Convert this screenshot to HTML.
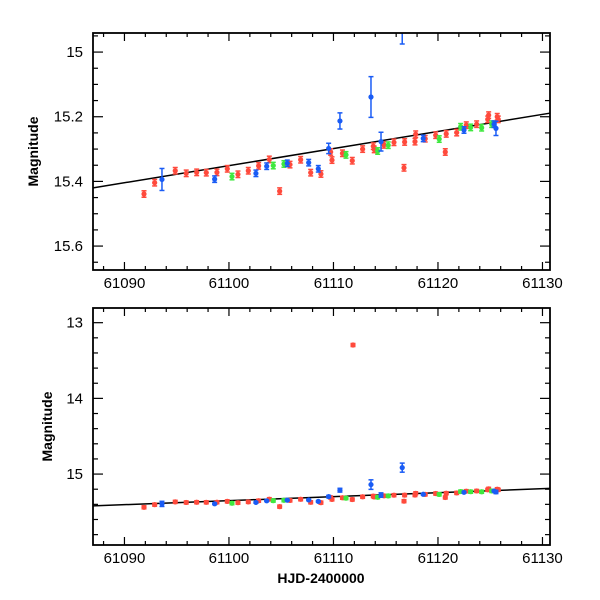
<!DOCTYPE html>
<html><head><meta charset="utf-8"><style>
html,body{margin:0;padding:0;background:#fff;}
svg{display:block;font-family:"Liberation Sans",sans-serif;}
</style></head><body>
<svg id="chart" width="600" height="600" viewBox="0 0 600 600" xmlns="http://www.w3.org/2000/svg"></svg>
<script>
// ---- data ----
const redDays=[61091.87,61092.89,61094.86,61095.91,61096.91,61097.83,61098.85,61099.84,61100.86,61101.85,61102.84,61103.86,61104.85,61105.84,61106.86,61107.82,61108.80,61109.73,61109.86,61110.86,61111.80,61111.87,61112.79,61113.81,61113.90,61114.83,61115.79,61116.75,61116.81,61117.80,61117.87,61118.78,61119.78,61120.70,61120.79,61121.79,61122.71,61123.70,61124.76,61124.85,61125.67,61125.77];
const redMags=[15.439,15.404,15.367,15.375,15.372,15.373,15.372,15.361,15.378,15.367,15.352,15.332,15.430,15.348,15.333,15.373,15.377,15.309,15.334,15.313,15.336,13.295,15.300,15.291,15.301,15.287,15.279,15.358,15.278,15.277,15.254,15.268,15.257,15.309,15.253,15.249,15.226,15.223,15.208,15.195,15.200,15.208];
const blueDays=[61093.59,61098.63,61102.58,61103.61,61105.58,61107.63,61108.55,61109.54,61110.62,61113.59,61114.55,61116.58,61118.59,61122.49,61125.36,61125.55];
const blueMags=[15.394,15.393,15.375,15.353,15.344,15.342,15.361,15.298,15.213,15.139,15.277,14.915,15.267,15.241,15.223,15.236];
const blueErrs=[0.034,0.01,0.01,0.01,0.01,0.01,0.01,0.016,0.025,0.063,0.029,0.06,0.01,0.01,0.01,0.022];
const greenDays=[61100.29,61104.24,61105.26,61111.20,61114.23,61115.24,61120.12,61122.17,61123.13,61124.18,61125.14];
const greenMags=[15.385,15.351,15.346,15.318,15.306,15.288,15.269,15.231,15.233,15.234,15.223];
const fitDays=[61087.0,61130.7];
const fitMags=[15.420,15.189];
const xTicks=[61090,61100,61110,61120,61130];
const topYTicks=[15,15.2,15.4,15.6];
const botYTicks=[13,14,15];
// ---- layout ----
const NS="http://www.w3.org/2000/svg";
const svg=document.getElementById('chart');
const X0=93,X1=550,D0=61086.99,D1=61130.72;
const xs=d=>X0+(d-D0)/(D1-D0)*(X1-X0);
const panels=[
 {name:'top',y0:33,y1:270,m0:14.941,m1:15.674,ticks:topYTicks,minor:0.05,labels:['15','15.2','15.4','15.6'],r:2.6,eR:0.01},
 {name:'bottom',y0:308,y1:545,m0:12.806,m1:15.937,ticks:botYTicks,minor:0.2,labels:['13','14','15'],r:2.6,eR:0.02}
];
function mk(tag,attrs,parent){const e=document.createElementNS(NS,tag);for(const k in attrs)e.setAttribute(k,attrs[k]);(parent||svg).appendChild(e);return e;}
panels.forEach((p,pi)=>{
 const ys=m=>p.y0+(m-p.m0)/(p.m1-p.m0)*(p.y1-p.y0);
 const g=mk('g',{});
 
 
 const cid='clip'+pi;
 const cp=mk('clipPath',{id:cid},g);mk('rect',{x:X0,y:p.y0,width:X1-X0,height:p.y1-p.y0},cp);
 for(let d=61088;d<=61130;d+=2){
  const x=xs(d),major=(d%10===0),L=major?8:4;
  mk('line',{x1:x,y1:p.y1,x2:x,y2:p.y1-L,stroke:'#000','stroke-width':1.2},g);
  mk('line',{x1:x,y1:p.y0,x2:x,y2:p.y0+L,stroke:'#000','stroke-width':1.2},g);
 }
 const n0=Math.ceil(p.m0/p.minor-1e-6),n1=Math.floor(p.m1/p.minor+1e-6);
 for(let n=n0;n<=n1;n++){
  const m=n*p.minor,y=ys(m);
  const major=p.ticks.some(t=>Math.abs(t-m)<1e-6),L=major?10:5;
  mk('line',{x1:X0,y1:y,x2:X0+L,y2:y,stroke:'#000','stroke-width':1.2},g);
  mk('line',{x1:X1,y1:y,x2:X1-L,y2:y,stroke:'#000','stroke-width':1.2},g);
 }
 p.ticks.forEach((t,i)=>{
  const tx=mk('text',{x:X0-10,y:ys(t)+5,'text-anchor':'end','font-size':15},g);
  tx.textContent=p.labels[i];
  
  
 });
 xTicks.forEach(t=>{
  const tx=mk('text',{x:xs(t),y:p.y1+18,'text-anchor':'middle','font-size':15},g);
  tx.textContent=String(t);
  
  
 });
 const yl=mk('text',{x:0,y:0,'text-anchor':'middle','font-size':14,'font-weight':'bold',transform:`translate(${pi?52:38},${(p.y0+p.y1)/2}) rotate(-90)`},g);
 yl.textContent='Magnitude';
 
 
 const plot=mk('g',{'clip-path':`url(#${cid})`},g);
 const fl=mk('line',{x1:xs(fitDays[0]),y1:ys(fitMags[0]),x2:xs(fitDays[1]),y2:ys(fitMags[1]),stroke:'#000','stroke-width':1.5},plot);
 
 
 function pts(days,mags,errs,color,nm){
  days.forEach((d,i)=>{
   const x=xs(d),y=ys(mags[i]),e=(errs?errs[i]:p.eR);
   const ya=ys(mags[i]-e),yb=ys(mags[i]+e);
   const pg=mk('g',{},plot);
   
   
   mk('line',{x1:x,y1:ya,x2:x,y2:yb,stroke:color,'stroke-width':1.5},pg);
   mk('line',{x1:x-2.5,y1:ya,x2:x+2.5,y2:ya,stroke:color,'stroke-width':1.5},pg);
   mk('line',{x1:x-2.5,y1:yb,x2:x+2.5,y2:yb,stroke:color,'stroke-width':1.5},pg);
   mk('circle',{cx:x,cy:y,r:p.r,fill:color},pg);
  });
 }
 pts(redDays,redMags,null,'#ff4a3c','red');
 pts(greenDays,greenMags,null,'#3ee83e','green');
 pts(blueDays,blueMags,blueErrs,'#1a5cf5','blue');
 mk('rect',{x:X0,y:p.y0,width:X1-X0,height:p.y1-p.y0,fill:'none',stroke:'#000','stroke-width':1.8},g);
});
const xl=mk('text',{x:321,y:583,'text-anchor':'middle','font-size':14,'font-weight':'bold'});
xl.textContent='HJD-2400000';


</script>
</body></html>
